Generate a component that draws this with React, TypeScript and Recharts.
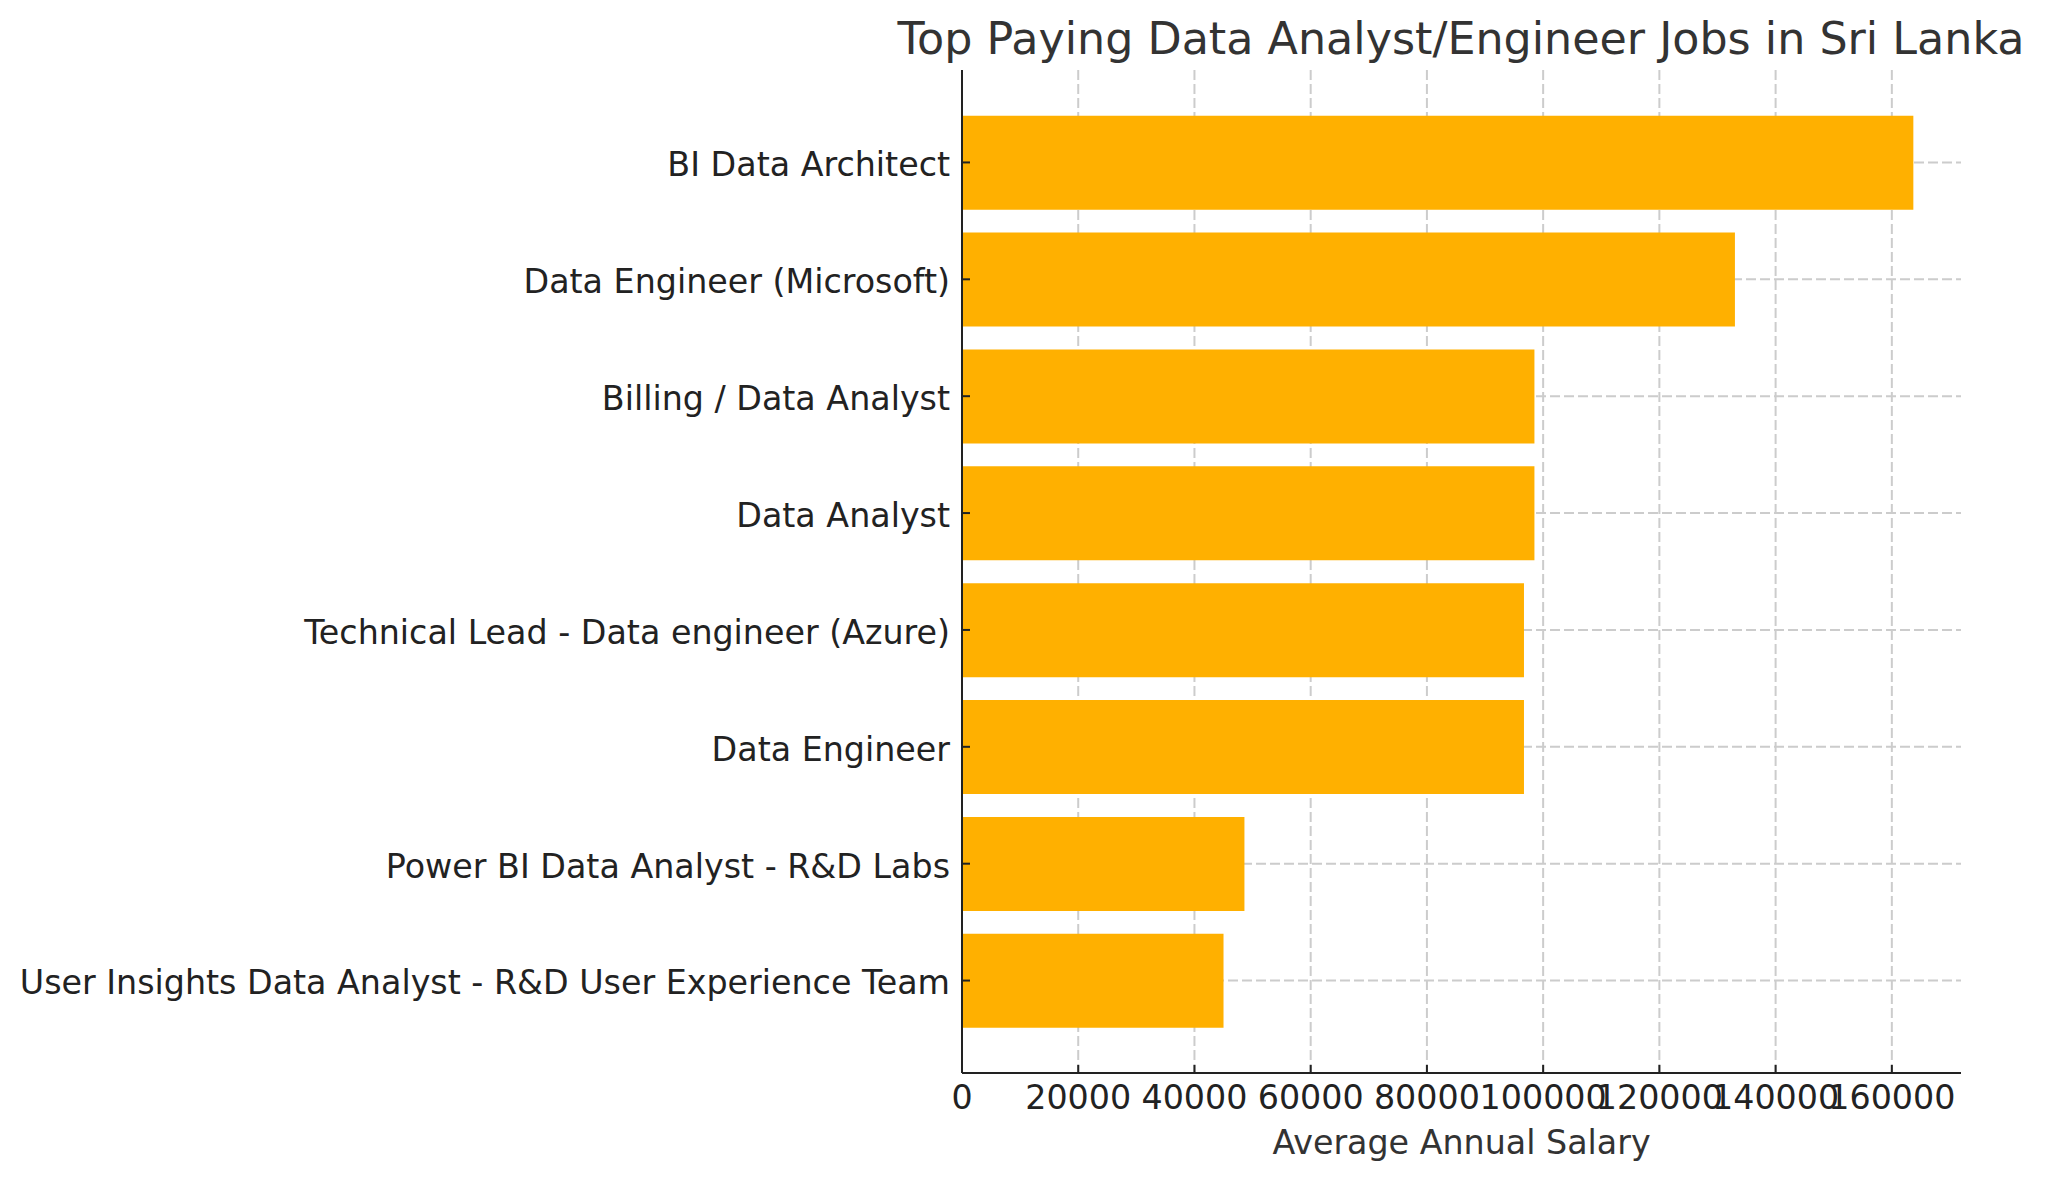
import React from 'react';
import { BarChart, Bar, XAxis, YAxis, CartesianGrid } from 'recharts';

const jobTitles: string[] = [
  'BI Data Architect',
  'Data Engineer (Microsoft)',
  'Billing / Data Analyst',
  'Data Analyst',
  'Technical Lead - Data engineer (Azure)',
  'Data Engineer',
  'Power BI Data Analyst - R&D Labs',
  'User Insights Data Analyst - R&D User Experience Team',
];

const salaries: number[] = [163700, 133000, 98500, 98500, 96700, 96700, 48600, 45000];

const xTicks: number[] = [0, 20000, 40000, 60000, 80000, 100000, 120000, 140000, 160000];

const chartTitle = 'Top Paying Data Analyst/Engineer Jobs in Sri Lanka';
const xLabel = 'Average Annual Salary';

const data = jobTitles.map((job, i) => ({ job, salary: salaries[i] }));

const FONT = '"DejaVu Sans", sans-serif';

export default function App() {
  return (
    <div style={{ position: 'absolute', left: 0, top: 0, width: 2045, height: 1180, background: '#fff' }}>
      <div
        style={{
          position: 'absolute',
          left: 461,
          width: 2000,
          top: 15,
          textAlign: 'center',
          fontFamily: FONT,
          fontSize: 44.4,
          lineHeight: '48px',
          color: '#333333',
          whiteSpace: 'nowrap',
        }}
      >
        {chartTitle}
      </div>
      <BarChart
        width={2045}
        height={1180}
        data={data}
        layout="vertical"
        margin={{ top: 70, right: 84, bottom: 0, left: 0 }}
        barCategoryGap="10%"
        style={{ fontFamily: FONT }}
      >
        <XAxis
          type="number"
          dataKey="salary"
          domain={[0, 171900]}
          ticks={xTicks}
          allowDataOverflow
          height={107}
          tickSize={-8}
          tickMargin={20}
          axisLine={{ stroke: '#222', strokeWidth: 2 }}
          tickLine={{ stroke: '#222', strokeWidth: 2 }}
          tick={{ fill: '#222', fontSize: 33.3, fontFamily: FONT }}
          interval={0}
          label={{ value: xLabel, position: 'insideBottom', offset: 26, fill: '#333', fontSize: 33.3, fontFamily: FONT }}
        />
        <YAxis
          type="category"
          dataKey="job"
          width={962}
          padding={{ top: 34, bottom: 34 }}
          tickSize={-8}
          tickMargin={20}
          axisLine={{ stroke: '#222', strokeWidth: 2 }}
          tickLine={{ stroke: '#222', strokeWidth: 2 }}
          tick={{ fill: '#222', fontSize: 33.3, fontFamily: FONT, dy: 2 }}
          interval={0}
        />
        <Bar dataKey="salary" fill="#FFB000" isAnimationActive={false} />
        <CartesianGrid stroke="#cccccc" strokeWidth={2} strokeDasharray="10 4" syncWithTicks />
      </BarChart>
    </div>
  );
}
